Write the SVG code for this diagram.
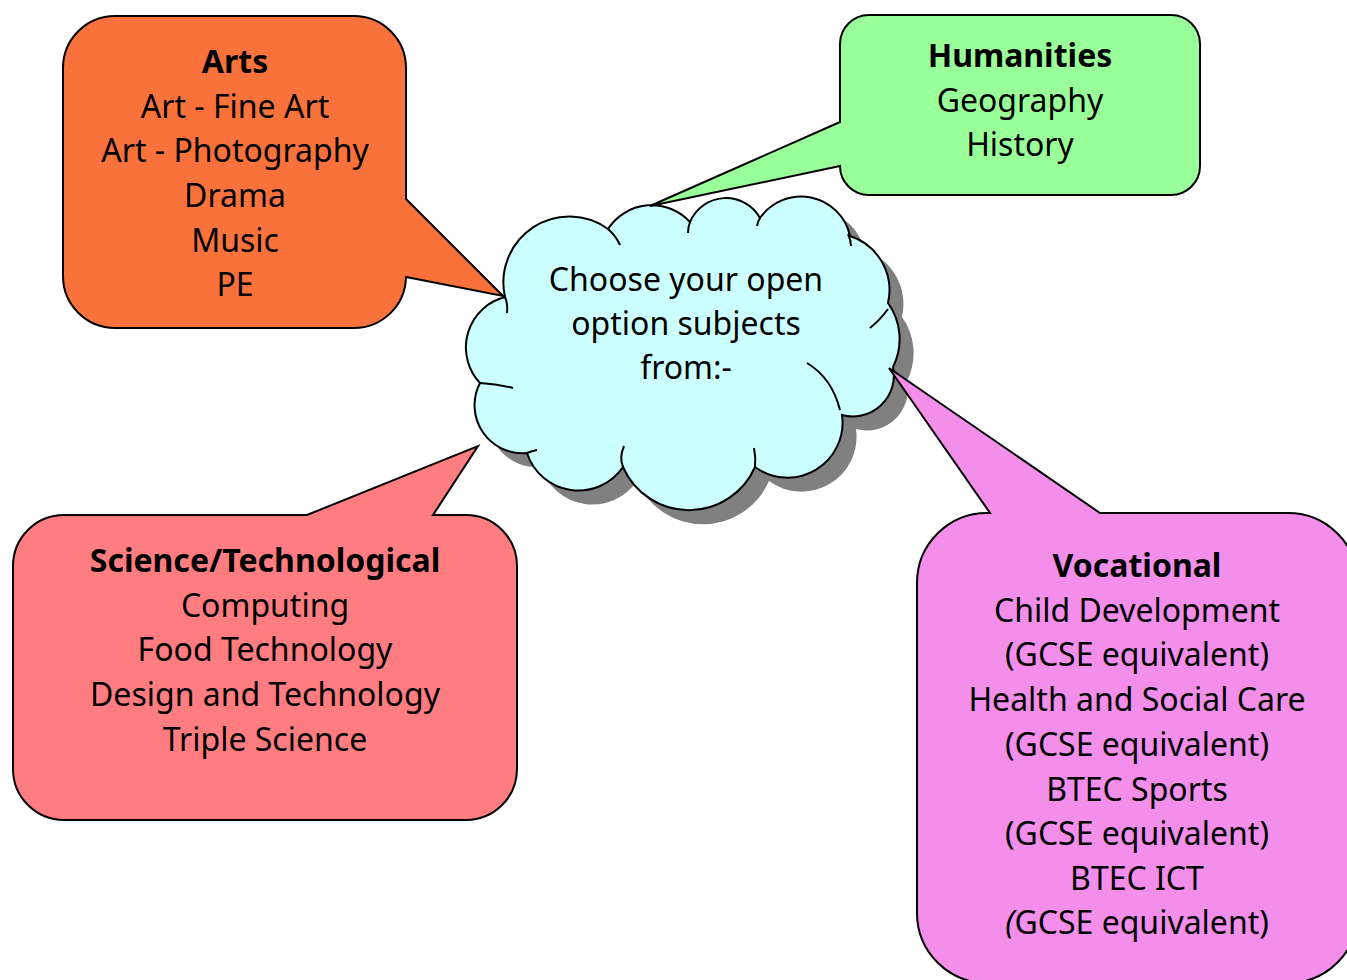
<svg xmlns="http://www.w3.org/2000/svg" width="1347" height="980" viewBox="0 0 1347 980">
<style>
  .box { stroke: #000; stroke-width: 2; stroke-linejoin: miter; }
  .t { font-family: "Comic Sans MS", "Noto Sans", sans-serif; font-size: 32px; fill: #000; text-anchor: middle; }
  .b { font-weight: bold; }
  .inner { fill: none; stroke: #000; stroke-width: 2; }
</style>
<defs>
  <path id="cloudShape" d="M 505,297 A 66 66 0 0 1 608,229 A 52 52 0 0 1 690,222 A 39 39 0 0 1 760,218 A 50 50 0 0 1 850,236 A 57 57 0 0 1 888,303 A 62 62 0 0 1 893,367 A 41 41 0 0 1 842,415 A 55 55 0 0 1 755,467 A 72 72 0 0 1 623,467 A 54 54 0 0 1 527,453 A 48 48 0 0 1 480,383 A 52 52 0 0 1 505,297 Z"/>
</defs>
<rect width="1347" height="980" fill="#fff"/>

<g id="connectors"></g>

<g id="cloud">
  <use href="#cloudShape" transform="translate(14,14)" fill="#808080"/>
  <use href="#cloudShape" fill="#CCFFFF" stroke="#000" stroke-width="2"/>
  <path class="inner" d="M 505,297 Q 508,304 507,313"/>
  <path class="inner" d="M 608,229 Q 616,236 620,245"/>
  <path class="inner" d="M 690,222 Q 688,227 688,233"/>
  <path class="inner" d="M 760,218 Q 758,221 757,226"/>
  <path class="inner" d="M 848,234 Q 851,240 851,246"/>
  <path class="inner" d="M 888,309 Q 880,320 870,328"/>
  <path class="inner" d="M 807,363 Q 832,378 840,410"/>
  <path class="inner" d="M 754,448 Q 756,458 755,467"/>
  <path class="inner" d="M 623,467 Q 619,458 624,446"/>
  <path class="inner" d="M 527,453 Q 532,451 537,450"/>
  <path class="inner" d="M 480,383 Q 497,384 513,388"/>
  <text class="t" x="686" y="291">Choose your open</text>
  <text class="t" x="686" y="335">option subjects</text>
  <text class="t" x="686" y="379">from:-</text>
</g>

<g id="arts">
  <path class="box" fill="#F9723B" d="M 115,16 H 354 A 52 52 0 0 1 406,68 V 199 L 503,296 L 406,277 A 52 52 0 0 1 354,328 H 115 A 52 52 0 0 1 63,276 V 68 A 52 52 0 0 1 115,16 Z"/>
  <text class="t b" x="235" y="73">Arts</text>
  <text class="t" x="235" y="117.5">Art - Fine Art</text>
  <text class="t" x="235" y="162">Art - Photography</text>
  <text class="t" x="235" y="207">Drama</text>
  <text class="t" x="235" y="251.5">Music</text>
  <text class="t" x="235" y="296">PE</text>
</g>

<g id="humanities">
  <path class="box" fill="#99FF99" d="M 869,15 H 1171 A 29 29 0 0 1 1200,44 V 166 A 29 29 0 0 1 1171,195 H 869 A 29 29 0 0 1 840,166 L 650,206 L 840,122 V 44 A 29 29 0 0 1 869,15 Z"/>
  <text class="t b" x="1020" y="67">Humanities</text>
  <text class="t" x="1020" y="111.5">Geography</text>
  <text class="t" x="1020" y="156">History</text>
</g>

<g id="science">
  <path class="box" fill="#FF7C80" d="M 64,515 H 307 L 478,446 L 433,515 H 466 A 51 51 0 0 1 517,566 V 769 A 51 51 0 0 1 466,820 H 64 A 51 51 0 0 1 13,769 V 566 A 51 51 0 0 1 64,515 Z"/>
  <text class="t b" x="265" y="572">Science/Technological</text>
  <text class="t" x="265" y="616.7">Computing</text>
  <text class="t" x="265" y="661.4">Food Technology</text>
  <text class="t" x="265" y="706">Design and Technology</text>
  <text class="t" x="265" y="750.8">Triple Science</text>
</g>

<g id="vocational">
  <path class="box" fill="#F38EEA" d="M 987,513 H 990 L 889,368 L 1100,513 H 1288 A 70 70 0 0 1 1358,583 V 913 A 70 70 0 0 1 1288,983 H 987 A 70 70 0 0 1 917,913 V 583 A 70 70 0 0 1 987,513 Z"/>
  <text class="t b" x="1137" y="577">Vocational</text>
  <text class="t" x="1137" y="621.7">Child Development</text>
  <text class="t" x="1137" y="666.4">(GCSE equivalent)</text>
  <text class="t" x="1137" y="711">Health and Social Care</text>
  <text class="t" x="1137" y="755.8">(GCSE equivalent)</text>
  <text class="t" x="1137" y="800.5">BTEC Sports</text>
  <text class="t" x="1137" y="845">(GCSE equivalent)</text>
  <text class="t" x="1137" y="889.7">BTEC ICT</text>
  <text class="t" x="1137" y="934.4"><tspan font-style="italic">(</tspan>GCSE equivalent)</text>
</g>
</svg>
